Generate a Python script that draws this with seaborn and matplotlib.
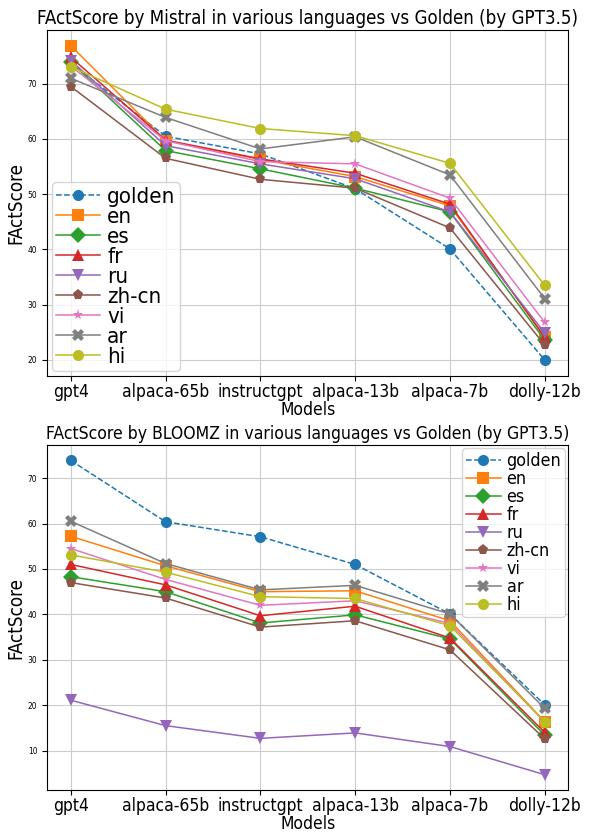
import matplotlib
matplotlib.use("Agg")
import matplotlib.pyplot as plt
import seaborn as sns
import pandas as pd

models = ["gpt4", "alpaca-65b", "instructgpt", "alpaca-13b", "alpaca-7b", "dolly-12b"]
langs = ["golden", "en", "es", "fr", "ru", "zh-cn", "vi", "ar", "hi"]

mistral_golden = [73.7, 60.5, 57.3, 51.0, 40.1, 20.0]
mistral_en = [76.9, 59.7, 56.3, 53.2, 47.9, 24.2]
mistral_es = [73.9, 57.9, 54.6, 51.1, 46.8, 23.6]
mistral_fr = [74.8, 59.8, 56.4, 53.8, 48.2, 24.1]
mistral_ru = [74.2, 58.8, 55.5, 52.8, 46.8, 24.9]
mistral_zh = [69.5, 56.5, 52.7, 51.1, 43.9, 22.7]
mistral_vi = [73.2, 59.7, 55.9, 55.5, 49.3, 26.8]
mistral_ar = [71.0, 63.9, 58.2, 60.4, 53.5, 31.1]
mistral_hi = [73.1, 65.4, 61.9, 60.6, 55.6, 33.5]

bloomz_golden = [73.9, 60.4, 57.1, 51.0, 40.1, 20.1]
bloomz_en = [57.2, 50.7, 45.0, 45.2, 38.6, 16.4]
bloomz_es = [48.3, 45.0, 38.1, 39.9, 34.6, 13.4]
bloomz_fr = [51.0, 46.5, 39.7, 41.8, 34.8, 14.0]
bloomz_ru = [21.1, 15.5, 12.7, 13.9, 10.9, 4.7]
bloomz_zh = [47.0, 43.6, 37.2, 38.6, 32.2, 12.6]
bloomz_vi = [54.5, 47.7, 42.0, 43.0, 38.0, 16.3]
bloomz_ar = [60.5, 51.2, 45.4, 46.4, 40.1, 19.3]
bloomz_hi = [53.1, 49.3, 43.9, 43.5, 37.5, 16.4]

mistral = [mistral_golden, mistral_en, mistral_es, mistral_fr, mistral_ru,
           mistral_zh, mistral_vi, mistral_ar, mistral_hi]
bloomz = [bloomz_golden, bloomz_en, bloomz_es, bloomz_fr, bloomz_ru,
          bloomz_zh, bloomz_vi, bloomz_ar, bloomz_hi]

markers = ["o", "s", "D", "^", "v", "p", "*", "X", "o"]
colors = sns.color_palette("tab10")

plt.rcParams["font.family"] = ["DejaVu Sans"]
plt.rcParams["font.stretch"] = "condensed"

fig, axes = plt.subplots(2, 1, figsize=(5.89, 8.32), dpi=100)
titles = ["FActScore by Mistral in various languages vs Golden (by GPT3.5)",
          "FActScore by BLOOMZ in various languages vs Golden (by GPT3.5)"]
title_sizes = [13.4, 12.6]
legend_sizes = [16, 12.8]

for ax, data, title, tfs, lloc, lfs in zip(axes, [mistral, bloomz], titles, title_sizes,
                                           ["lower left", "upper right"], legend_sizes):
    for i, (lang, vals) in enumerate(zip(langs, data)):
        df = pd.DataFrame({"Models": models, "FActScore": vals})
        sns.lineplot(data=df, x="Models", y="FActScore", ax=ax, sort=False,
                     color=colors[i], marker=markers[i], markersize=8,
                     markeredgewidth=0, linewidth=1.1,
                     linestyle="--" if lang == "golden" else "-", label=lang)
    ax.set_title(title, fontsize=tfs, pad=4)
    ax.set_xlabel("Models", fontsize=12.5, labelpad=0)
    ax.set_ylabel("FActScore", fontsize=13.5, labelpad=2)
    ax.tick_params(axis="x", labelsize=12.5, pad=1.5)
    ax.tick_params(axis="y", labelsize=6)
    ax.grid(True, color="#cccccc")
    ax.legend(loc=lloc, fontsize=lfs, handlelength=2, borderpad=0.2,
              labelspacing=0.0, handletextpad=0.3, borderaxespad=0.2)

plt.subplots_adjust(left=0.08, right=0.965, top=0.964, bottom=0.05, hspace=0.2)
fig.savefig("out.png", dpi=100)
